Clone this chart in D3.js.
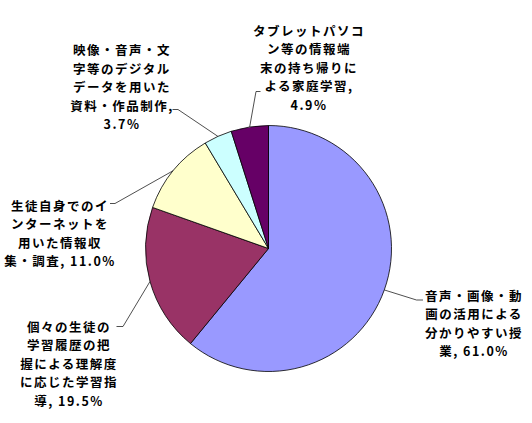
<!DOCTYPE html>
<html>
<head>
<meta charset="utf-8">
<script src="https://cdn.jsdelivr.net/npm/d3@7"></script>
<style>
  html, body { margin: 0; padding: 0; background: #fff; }
  svg { display: block; }
  text { font-family: "Noto Sans CJK JP", "Noto Sans", sans-serif; font-size: 12.5px; font-weight: bold; fill: #000; letter-spacing: 1.5px; }
</style>
</head>
<body>
<svg id="chart" width="532" height="423"></svg>
<script>
// ---- data ----
const categories = [
  "音声・画像・動画の活用による分かりやすい授業",
  "個々の生徒の学習履歴の把握による理解度に応じた学習指導",
  "生徒自身でのインターネットを用いた情報収集・調査",
  "映像・音声・文字等のデジタルデータを用いた資料・作品制作",
  "タブレットパソコン等の情報端末の持ち帰りによる家庭学習"
];
const values = [61.0, 19.5, 11.0, 3.7, 4.9];
// wrapped label lines (as in the reference); percentage appended from values
const labelLines = [
  ["音声・画像・動", "画の活用による", "分かりやすい授", "業, {v}"],
  ["個々の生徒の", "学習履歴の把", "握による理解度", "に応じた学習指", "導, {v}"],
  ["生徒自身でのイ", "ンターネットを", "用いた情報収", "集・調査, {v}"],
  ["映像・音声・文", "字等のデジタル", "データを用いた", "資料・作品制作,", "{v}"],
  ["タブレットパソコ", "ン等の情報端", "末の持ち帰りに", "よる家庭学習,", "{v}"]
];
const colors = ["#9999FF", "#993366", "#FFFFCC", "#CCFFFF", "#660066"];

// ---- layout ----
const cx = 268.5, cy = 248.5, r = 123;
const lineH = 18.5;
// label block: center x, first line center y; leader bend & end points
const labelLayout = [
  { x: 474, y: 295,  bend: [416.5, 300],   end: [423, 300] },
  { x: 69,  y: 326,  bend: [123, 326.5],   end: [116.5, 326.5] },
  { x: 60,  y: 205,  bend: [115, 203.5],   end: [110, 203.5] },
  { x: 122, y: 49.5, bend: [178, 109.5],   end: [172.5, 109.5] },
  { x: 309, y: 30,   bend: [256, 91.5],    end: [260.5, 91.5] }
];

const svg = d3.select("#chart");
const g = svg.append("g").attr("transform", `translate(${cx},${cy})`);

const pie = d3.pie().sort(null).value(d => d)(values);
const arc = d3.arc().innerRadius(0).outerRadius(r);
const edge = d3.arc().innerRadius(r).outerRadius(r);

g.selectAll("path.slice")
  .data(pie)
  .join("path")
  .attr("class", "slice")
  .attr("d", arc)
  .attr("fill", (d, i) => colors[i])
  .attr("stroke", "#000")
  .attr("stroke-width", 0.8);

// leader lines
svg.selectAll("polyline.leader")
  .data(pie)
  .join("polyline")
  .attr("class", "leader")
  .attr("fill", "none")
  .attr("stroke", "#222")
  .attr("stroke-width", 0.8)
  .attr("points", (d, i) => {
    const c = edge.centroid(d);
    const L = labelLayout[i];
    return [[cx + c[0], cy + c[1]], L.bend, L.end].map(p => p.join(",")).join(" ");
  });

// labels
const fmt = v => v.toFixed(1) + "%";
const labels = svg.selectAll("text.label")
  .data(pie)
  .join("text")
  .attr("class", "label")
  .attr("text-anchor", "middle");

labels.each(function(d, i) {
  const L = labelLayout[i];
  d3.select(this).selectAll("tspan")
    .data(labelLines[i].map(s => s.replace("{v}", fmt(values[i]))))
    .join("tspan")
    .attr("x", L.x)
    .attr("y", (s, k) => L.y + k * lineH)
    .attr("dominant-baseline", "central")
    .text(s => s);
});
</script>
</body>
</html>
